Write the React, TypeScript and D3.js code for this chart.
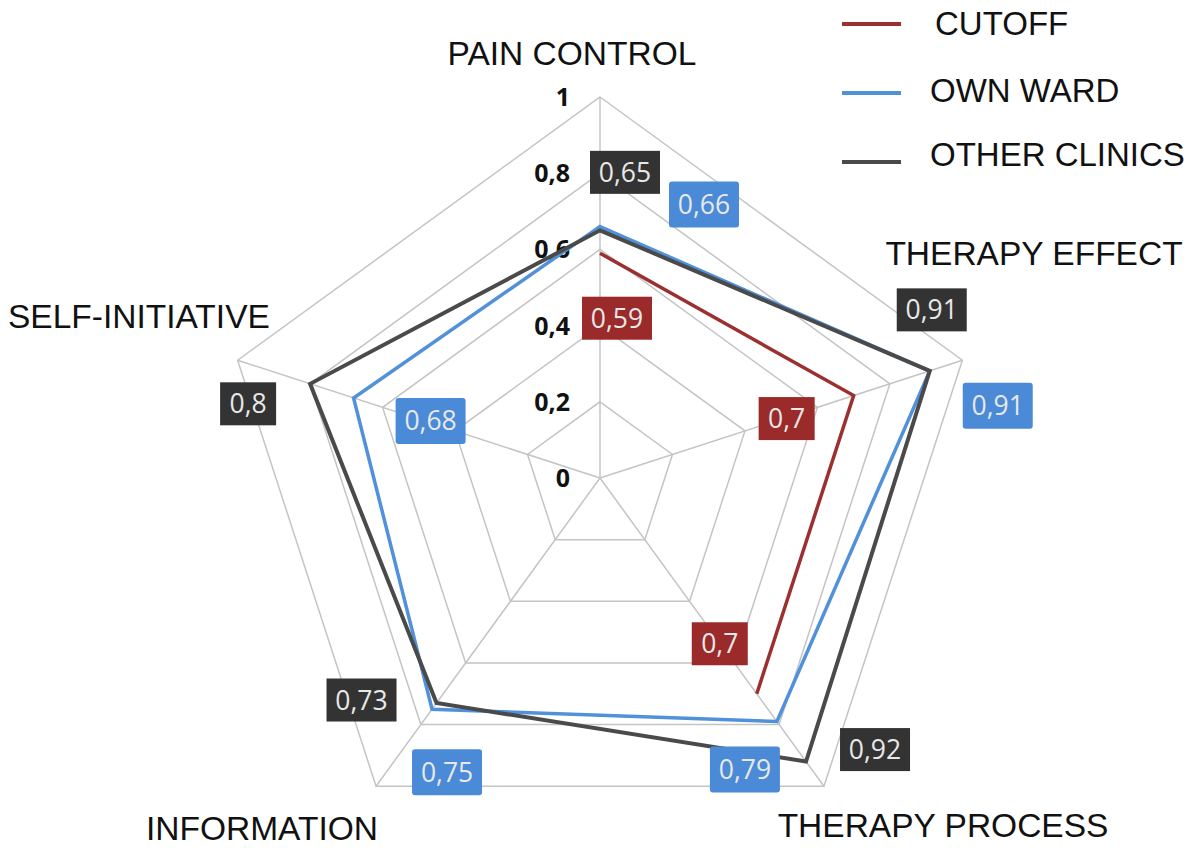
import React from "react";
import * as d3 from "d3";

const categories = ["PAIN CONTROL", "THERAPY EFFECT", "THERAPY PROCESS", "INFORMATION", "SELF-INITIATIVE"];
const cutoffValues: (number | null)[] = [0.59, 0.7, 0.7, null, null];
const ownWardValues = [0.66, 0.91, 0.79, 0.75, 0.68];
const otherClinicsValues = [0.65, 0.91, 0.92, 0.73, 0.8];
const tickValues = [0, 0.2, 0.4, 0.6, 0.8, 1];
const tickLabels = ["0", "0,2", "0,4", "0,6", "0,8", "1"];
const seriesNames = ["CUTOFF", "OWN WARD", "OTHER CLINICS"];

const W = 1200, H = 850;
const cx = 600, cy = 478, R = 381;
const colors = { cutoff: "#9c2f2f", own: "#5191da", other: "#4a4a4a" };
const boxColors = { cutoff: "#9b2a2a", own: "#4a8ad6", other: "#333333" };

// label offsets (dx, dy) from data point, per series per axis
const cutoffOffsets: ([number, number] | null)[] = [[17, 65], [-67, 23], [-37, -50], null, null];
const ownOffsets: [number, number][] = [[104, -22], [68, 35], [-32, 48], [15, 63], [77, 23]];
const otherOffsets: [number, number][] = [[25, -58], [2, -61], [69, -12], [-75, -3], [-62, 20]];

const axisLabelPos: { x: number; y: number; anchor: string }[] = [
  { x: 572, y: 65, anchor: "middle" },
  { x: 1034, y: 265, anchor: "middle" },
  { x: 943, y: 837, anchor: "middle" },
  { x: 262, y: 840, anchor: "middle" },
  { x: 8, y: 328, anchor: "start" },
];

const r = d3.scaleLinear().domain([0, 1]).range([0, R]);
const angle = d3.scaleLinear().domain([0, categories.length]).range([0, 2 * Math.PI]);

function pt(i: number, v: number): [number, number] {
  const a = angle(i);
  return [cx + r(v) * Math.sin(a), cy - r(v) * Math.cos(a)];
}

function fmt(v: number) {
  return String(v).replace(".", ",");
}

function Label({ x, y, text, fill, rounded }: { x: number; y: number; text: string; fill: string; rounded?: boolean }) {
  const w = text.length * 14 + 14;
  const h = rounded ? 46 : 43;
  return (
    <g>
      <rect x={x - w / 2} y={y - h / 2} width={w} height={h} fill={fill} rx={rounded ? 3 : 0} />
      <text x={x} y={y + 9.5} textAnchor="middle" fontFamily="'Open Sans', sans-serif" fontSize={26.5} fill="#e8e8e8">
        {text}
      </text>
    </g>
  );
}

export default function App() {
  const n = categories.length;
  const closed = d3.line<[number, number]>().curve(d3.curveLinearClosed);
  const ring = (v: number) => closed(d3.range(n).map((i) => pt(i, v))) as string;
  const ownPath = closed(ownWardValues.map((v, i) => pt(i, v))) as string;
  const otherPath = closed(otherClinicsValues.map((v, i) => pt(i, v))) as string;
  const cutPts = cutoffValues.map((v, i) => (v == null ? null : pt(i, v))).filter((p) => p) as [number, number][];
  const cutPath = d3.line<[number, number]>()(cutPts) as string;

  const legend = [
    { name: seriesNames[0], color: colors.cutoff, ly: 24, ty: 35, tx: 935 },
    { name: seriesNames[1], color: colors.own, ly: 93, ty: 102, tx: 930 },
    { name: seriesNames[2], color: colors.other, ly: 162, ty: 166, tx: 930 },
  ];

  return (
    <svg width={W} height={H} style={{ position: "absolute", left: 0, top: 0, background: "#fff" }}>
      <rect width={W} height={H} fill="#fff" />
      {/* grid */}
      {tickValues.slice(1).map((t) => (
        <path key={t} d={ring(t)} fill="none" stroke="#c4c4c4" strokeWidth={1.5} />
      ))}
      {d3.range(n).map((i) => {
        const [x, y] = pt(i, 1);
        return <line key={i} x1={cx} y1={cy} x2={x} y2={y} stroke="#c4c4c4" strokeWidth={1.5} />;
      })}
      {/* tick labels */}
      {tickValues.map((t, i) => (
        <text key={t} x={570} y={cy - r(t) + 9} textAnchor="end" fontFamily="'Open Sans', sans-serif" fontWeight={700} fontSize={25} fill="#111">
          {tickLabels[i]}
        </text>
      ))}
      {/* series */}
      <path d={cutPath} fill="none" stroke={colors.cutoff} strokeWidth={3.5} strokeLinejoin="miter" />
      <path d={ownPath} fill="none" stroke={colors.own} strokeWidth={3.5} strokeLinejoin="miter" />
      <path d={otherPath} fill="none" stroke={colors.other} strokeWidth={4} strokeLinejoin="miter" />
      {/* axis labels */}
      {categories.map((c, i) => (
        <text key={c} x={axisLabelPos[i].x} y={axisLabelPos[i].y} textAnchor={axisLabelPos[i].anchor as any} fontFamily="'Liberation Sans', Arial, sans-serif" fontSize={33.5} fill="#111">
          {c}
        </text>
      ))}
      {/* data labels */}
      {cutoffValues.map((v, i) => {
        const off = cutoffOffsets[i];
        if (v == null || !off) return null;
        const [x, y] = pt(i, v);
        return <Label key={"c" + i} x={x + off[0]} y={y + off[1]} text={fmt(v)} fill={boxColors.cutoff} />;
      })}
      {ownWardValues.map((v, i) => {
        const [x, y] = pt(i, v);
        return <Label key={"o" + i} x={x + ownOffsets[i][0]} y={y + ownOffsets[i][1]} text={fmt(v)} fill={boxColors.own} rounded />;
      })}
      {otherClinicsValues.map((v, i) => {
        const [x, y] = pt(i, v);
        return <Label key={"t" + i} x={x + otherOffsets[i][0]} y={y + otherOffsets[i][1]} text={fmt(v)} fill={boxColors.other} />;
      })}
      {/* legend */}
      {legend.map((l) => (
        <g key={l.name}>
          <line x1={842} x2={901} y1={l.ly} y2={l.ly} stroke={l.color} strokeWidth={4} />
          <text x={l.tx} y={l.ty} fontFamily="'Liberation Sans', Arial, sans-serif" fontSize={33} fill="#111">
            {l.name}
          </text>
        </g>
      ))}
    </svg>
  );
}
